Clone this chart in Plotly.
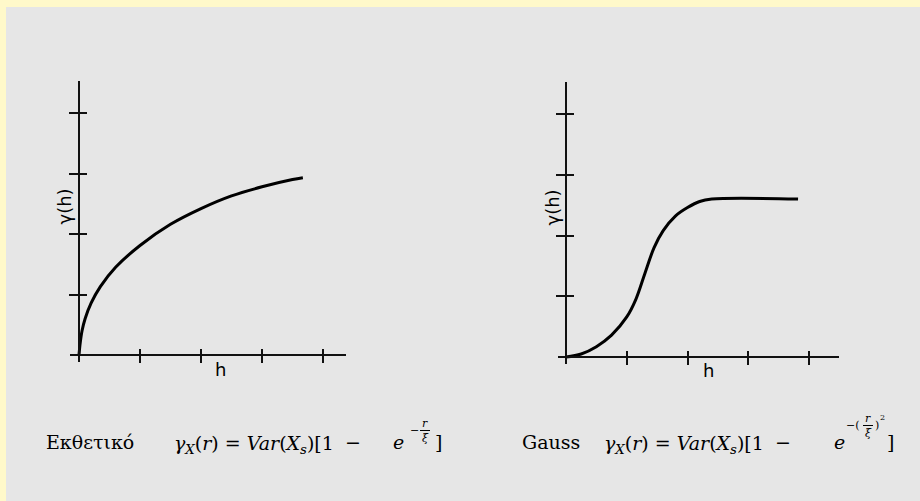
import plotly.graph_objects as go

W, H = 920, 501

# Exponential variogram model (left panel)
exp_h = [0, 0.02, 0.05, 0.1, 0.2, 0.35, 0.6, 1.0, 1.5, 2.0, 2.5, 3.0, 3.5, 3.67]
exp_gamma = [0, 0.2, 0.4, 0.6, 0.86, 1.13, 1.45, 1.81, 2.16, 2.42, 2.63, 2.78, 2.90, 2.93]

# Gaussian variogram model (right panel)
gauss_h = [0, 0.25, 0.5, 0.75, 1.0, 1.15, 1.3, 1.45, 1.6, 1.8, 2.0, 2.2, 2.4, 3.82]
gauss_gamma = [0, 0.05, 0.17, 0.36, 0.66, 0.95, 1.38, 1.80, 2.08, 2.32, 2.46, 2.56, 2.60, 2.60]

tick_vals = [1, 2, 3, 4]
y_label = "γ(h)"
x_label = "h"
exp_name = "Εκθετικό"
gauss_name = "Gauss"

BG = "#E6E6E6"
FRAME = "#FFF9CA"
INK = "#111111"


def fx(p):
    return p / W


def fy(p):
    return 1 - p / H


# pixel geometry of each panel: origin, pixels per unit, axis extents
panels = [
    dict(ox=79, oy=355, ux=61.0, uy=60.5, x0=70, x1=346, ytop=81, ybot=362,
         h=exp_h, g=exp_gamma),
    dict(ox=566, oy=357, ux=60.75, uy=60.75, x0=558, x1=839, ytop=82, ybot=364,
         h=gauss_h, g=gauss_gamma),
]

fig = go.Figure()
layout = {}
for i, p in enumerate(panels):
    xr = [(p["x0"] - p["ox"]) / p["ux"], (p["x1"] - p["ox"]) / p["ux"]]
    yr = [(p["oy"] - p["ybot"]) / p["uy"], (p["oy"] - p["ytop"]) / p["uy"]]
    xd = [fx(p["x0"]), fx(p["x1"])]
    yd = [fy(p["ybot"]), fy(p["ytop"])]
    common = dict(showgrid=False, zeroline=False, showticklabels=False,
                  tickvals=tick_vals, tickcolor=INK, tickwidth=2, fixedrange=True)
    bx, by = ("x", "y") if i == 0 else ("x2", "y2")
    ox_id, oy_id = 3 + 2 * i, 4 + 2 * i
    layout["xaxis" if i == 0 else "xaxis2"] = dict(
        domain=xd, range=xr, anchor="free", position=fy(p["oy"]),
        showline=True, linecolor=INK, linewidth=2, ticks="outside", ticklen=7, **common)
    layout["yaxis" if i == 0 else "yaxis2"] = dict(
        domain=yd, range=yr, anchor="free", position=fx(p["ox"]),
        showline=True, linecolor=INK, linewidth=2, ticks="outside", ticklen=9, **common)
    # companion axes carry the other half of each crossing tick mark
    layout["xaxis%d" % ox_id] = dict(
        domain=xd, range=xr, anchor="free", position=fy(p["oy"]), overlaying=bx,
        showline=False, ticks="inside", ticklen=6, **common)
    layout["yaxis%d" % oy_id] = dict(
        domain=yd, range=yr, anchor="free", position=fx(p["ox"]), overlaying=by,
        showline=False, ticks="inside", ticklen=7, **common)

    fig.add_trace(go.Scatter(x=p["h"], y=p["g"], mode="lines", xaxis=bx, yaxis=by,
                             line=dict(color="black", width=3, shape="spline", smoothing=1.0),
                             hoverinfo="skip"))
    fig.add_trace(go.Scatter(x=p["h"], y=p["g"], mode="lines",
                             xaxis="x%d" % ox_id, yaxis="y%d" % oy_id, opacity=0,
                             line=dict(color="black", width=3, shape="spline", smoothing=1.0),
                             hoverinfo="skip"))

ann = []


def text(t, x, y, size, family="DejaVu Serif", xanchor="center", angle=0):
    ann.append(dict(text=t, x=fx(x), y=fy(y), xref="paper", yref="paper", showarrow=False,
                    xanchor=xanchor, yanchor="middle", textangle=angle,
                    font=dict(family=family, size=size, color="black")))


# axis labels
text(y_label, 64, 206.5, 18, "DejaVu Sans", angle=-90)
text(y_label, 552, 207.5, 18, "DejaVu Sans", angle=-90)
text(x_label, 220, 369, 18, "DejaVu Sans")
text(x_label, 708, 370, 18, "DejaVu Sans")

C = 442          # vertical centre of the formula line
F = 19           # formula font size
E = 11           # exponent size

lhs = ("<i>γ</i><sub><i>X</i></sub>(<i>r</i>) = <i>Var</i>"
       "(<i>X</i><sub><i>s</i></sub>)[1")

# exponential model
text(exp_name, 90, C, 19)
text(lhs, 172, C + 2, F, xanchor="left")
text("−", 353, C, F)
text("<i>e</i>", 398, C, F)
text("−", 414, C - 12, E)
text("<i>r</i>", 425, C - 19, E)
text("<i>ξ</i>", 425, C - 4, E)
text("]", 438, C, F)

# Gaussian model
text(gauss_name, 551, C, 19)
text(lhs, 602, C + 2, F, xanchor="left")
text("−", 783, C, F)
text("<i>e</i>", 839, C, F)
text("−(", 853, C - 17, E)
text("<i>r</i>", 868, C - 24, E)
text("<i>ξ</i>", 868, C - 9, E)
text(")", 877, C - 17, E)
text("2", 882, C - 25, 8)
text("]", 890, C, F)

shapes = [
    dict(type="rect", xref="paper", yref="paper", x0=0, x1=1, y0=fy(7), y1=1,
         fillcolor=FRAME, line=dict(width=0), layer="below"),
    dict(type="rect", xref="paper", yref="paper", x0=0, x1=fx(6), y0=0, y1=1,
         fillcolor=FRAME, line=dict(width=0), layer="below"),
    # fraction bars in the exponents
    dict(type="line", xref="paper", yref="paper", x0=fx(420), x1=fx(430),
         y0=fy(C - 11.5), y1=fy(C - 11.5), line=dict(color="black", width=1)),
    dict(type="line", xref="paper", yref="paper", x0=fx(863), x1=fx(873),
         y0=fy(C - 16.5), y1=fy(C - 16.5), line=dict(color="black", width=1)),
]

fig.update_layout(
    width=W, height=H, margin=dict(l=0, r=0, t=0, b=0),
    paper_bgcolor=BG, plot_bgcolor="rgba(0,0,0,0)",
    showlegend=False, annotations=ann, shapes=shapes, **layout,
)

fig.write_html("out.html", config={"displayModeBar": False})
